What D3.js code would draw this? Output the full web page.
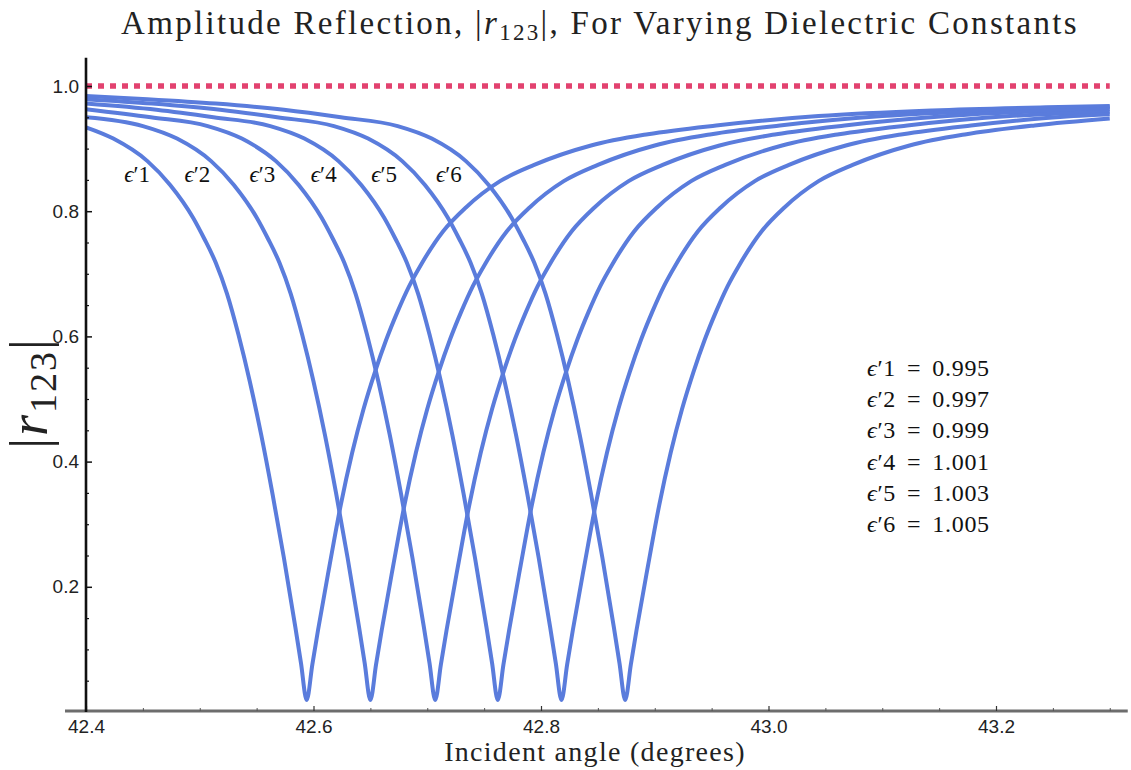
<!DOCTYPE html>
<html>
<head>
<meta charset="utf-8">
<script src="https://cdn.jsdelivr.net/npm/d3@7"></script>
<style>
  html, body { margin: 0; padding: 0; background: #ffffff; }
  svg { display: block; }
</style>
</head>
<body>
<svg id="chart" width="1131" height="770"></svg>
<script>
// ---------------- data ----------------
const angleTicks = [42.4, 42.6, 42.8, 43.0, 43.2];
const angleMinorTicks = [42.45, 42.5, 42.55, 42.65, 42.7, 42.75, 42.85, 42.9, 42.95, 43.05, 43.1, 43.15, 43.25, 43.3];
const rTicks = [0.2, 0.4, 0.6, 0.8, 1.0];
const rMinorTicks = [0.05, 0.1, 0.15, 0.25, 0.3, 0.35, 0.45, 0.5, 0.55, 0.65, 0.7, 0.75, 0.85, 0.9, 0.95];
const curveNames = ["ϵ′1", "ϵ′2", "ϵ′3", "ϵ′4", "ϵ′5", "ϵ′6"];
const epsValues = ["0.995", "0.997", "0.999", "1.001", "1.003", "1.005"];
const referenceLevel = [[42.4, 1.0], [43.3, 1.0]];

const curve1 = [[42.400,0.934],[42.424,0.916],[42.454,0.880],[42.474,0.842],[42.494,0.790],[42.504,0.756],[42.514,0.718],[42.524,0.668],[42.534,0.603],[42.544,0.528],[42.554,0.443],[42.564,0.348],[42.574,0.246],[42.584,0.136],[42.589,0.078],[42.594,0.019],[42.599,0.076],[42.604,0.131],[42.614,0.233],[42.624,0.331],[42.634,0.414],[42.644,0.484],[42.654,0.543],[42.664,0.595],[42.674,0.640],[42.684,0.680],[42.694,0.713],[42.714,0.768],[42.734,0.806],[42.764,0.848],[42.794,0.874],[42.844,0.905],[42.894,0.923],[42.954,0.937],[43.044,0.952],[43.144,0.961],[43.244,0.966],[43.300,0.968]];
const curve2 = [[42.400,0.950],[42.450,0.936],[42.480,0.916],[42.510,0.880],[42.530,0.842],[42.550,0.790],[42.560,0.756],[42.570,0.718],[42.580,0.668],[42.590,0.603],[42.600,0.528],[42.610,0.443],[42.620,0.348],[42.630,0.246],[42.640,0.136],[42.645,0.078],[42.650,0.019],[42.655,0.076],[42.660,0.131],[42.670,0.233],[42.680,0.331],[42.690,0.414],[42.700,0.484],[42.710,0.543],[42.720,0.595],[42.730,0.640],[42.740,0.680],[42.750,0.713],[42.770,0.768],[42.790,0.806],[42.820,0.848],[42.850,0.874],[42.900,0.905],[42.950,0.923],[43.010,0.937],[43.100,0.952],[43.200,0.961],[43.300,0.966]];
const curve3 = [[42.400,0.963],[42.457,0.950],[42.507,0.936],[42.537,0.916],[42.567,0.880],[42.587,0.842],[42.607,0.790],[42.617,0.756],[42.627,0.718],[42.637,0.668],[42.647,0.603],[42.657,0.528],[42.667,0.443],[42.677,0.348],[42.687,0.246],[42.697,0.136],[42.702,0.078],[42.707,0.019],[42.712,0.076],[42.717,0.131],[42.727,0.233],[42.737,0.331],[42.747,0.414],[42.757,0.484],[42.767,0.543],[42.777,0.595],[42.787,0.640],[42.797,0.680],[42.807,0.713],[42.827,0.768],[42.847,0.806],[42.877,0.848],[42.907,0.874],[42.957,0.905],[43.007,0.923],[43.067,0.937],[43.157,0.952],[43.257,0.961],[43.300,0.963]];
const curve4 = [[42.400,0.972],[42.462,0.962],[42.512,0.950],[42.562,0.936],[42.592,0.916],[42.622,0.880],[42.642,0.842],[42.662,0.790],[42.672,0.756],[42.682,0.718],[42.692,0.668],[42.702,0.603],[42.712,0.528],[42.722,0.443],[42.732,0.348],[42.742,0.246],[42.752,0.136],[42.757,0.078],[42.762,0.019],[42.767,0.076],[42.772,0.131],[42.782,0.233],[42.792,0.331],[42.802,0.414],[42.812,0.484],[42.822,0.543],[42.832,0.595],[42.842,0.640],[42.852,0.680],[42.862,0.713],[42.882,0.768],[42.902,0.806],[42.932,0.848],[42.962,0.874],[43.012,0.905],[43.062,0.923],[43.122,0.937],[43.212,0.952],[43.300,0.959]];
const curve5 = [[42.400,0.979],[42.458,0.972],[42.518,0.962],[42.568,0.950],[42.618,0.936],[42.648,0.916],[42.678,0.880],[42.698,0.842],[42.718,0.790],[42.728,0.756],[42.738,0.718],[42.748,0.668],[42.758,0.603],[42.768,0.528],[42.778,0.443],[42.788,0.348],[42.798,0.246],[42.808,0.136],[42.813,0.078],[42.818,0.019],[42.823,0.076],[42.828,0.131],[42.838,0.233],[42.848,0.331],[42.858,0.414],[42.868,0.484],[42.878,0.543],[42.888,0.595],[42.898,0.640],[42.908,0.680],[42.918,0.713],[42.938,0.768],[42.958,0.806],[42.988,0.848],[43.018,0.874],[43.068,0.905],[43.118,0.923],[43.178,0.937],[43.268,0.952],[43.300,0.955]];
const curve6 = [[42.400,0.984],[42.454,0.979],[42.514,0.972],[42.574,0.962],[42.624,0.950],[42.674,0.936],[42.704,0.916],[42.734,0.880],[42.754,0.842],[42.774,0.790],[42.784,0.756],[42.794,0.718],[42.804,0.668],[42.814,0.603],[42.824,0.528],[42.834,0.443],[42.844,0.348],[42.854,0.246],[42.864,0.136],[42.869,0.078],[42.874,0.019],[42.879,0.076],[42.884,0.131],[42.894,0.233],[42.904,0.331],[42.914,0.414],[42.924,0.484],[42.934,0.543],[42.944,0.595],[42.954,0.640],[42.964,0.680],[42.974,0.713],[42.994,0.768],[43.014,0.806],[43.044,0.848],[43.074,0.874],[43.124,0.905],[43.174,0.923],[43.234,0.937],[43.300,0.948]];
const curves = [curve1, curve2, curve3, curve4, curve5, curve6];

// annotation anchors (where the curve names sit, in data units)
const nameAngles = [42.445, 42.498, 42.555, 42.609, 42.662, 42.719];
const nameLevel = 0.847;

// ---------------- layout ----------------
const svg = d3.select("#chart");
const x = d3.scaleLinear().domain([42.4, 43.3]).range([86, 1109.75]);
const y = d3.scaleLinear().domain([0, 1]).range([712, 86]);

const serif = "'Liberation Serif', 'DejaVu Serif', serif";
const sans = "'Liberation Sans', Arial, sans-serif";
const blue = "#5a7cdc";
const red = "#e2426f";

// curves
const line = d3.line().x(d => x(d[0])).y(d => y(d[1])).curve(d3.curveMonotoneX);
svg.append("g").selectAll("path").data(curves).join("path")
  .attr("d", line).attr("fill", "none").attr("stroke", blue)
  .attr("stroke-width", 4).attr("stroke-linejoin", "round").attr("stroke-linecap", "butt");

// reference dotted line at 1.0
svg.append("path").datum(referenceLevel)
  .attr("d", d3.line().x(d => x(d[0])).y(d => y(d[1])))
  .attr("fill", "none").attr("stroke", red).attr("stroke-width", 5.5)
  .attr("stroke-dasharray", "6 6");

// x axis
const xAxisY = y(0) - 1;
svg.append("line").attr("x1", x(42.4) - 21).attr("x2", x(43.3) + 18)
  .attr("y1", xAxisY).attr("y2", xAxisY).attr("stroke", "#6d6d6d").attr("stroke-width", 3);
const gx = svg.append("g").attr("transform", `translate(0,${xAxisY})`)
  .call(d3.axisBottom(x).tickValues(angleTicks).tickSize(-5).tickPadding(9).tickFormat(d3.format(".1f")));
gx.select(".domain").remove();
gx.selectAll("line").attr("stroke", "#333").attr("stroke-width", 1.2);
gx.selectAll("text").attr("font-family", sans).attr("font-size", 19).attr("fill", "#222");
const gxm = svg.append("g").attr("transform", `translate(0,${xAxisY})`)
  .call(d3.axisBottom(x).tickValues(angleMinorTicks).tickSize(-3).tickFormat(""));
gxm.select(".domain").remove();
gxm.selectAll("line").attr("stroke", "#555").attr("stroke-width", 1);

// y axis
svg.append("line").attr("x1", x(42.4)).attr("x2", x(42.4))
  .attr("y1", y(0)).attr("y2", y(1.045)).attr("stroke", "#111").attr("stroke-width", 2.6);
const gy = svg.append("g").attr("transform", `translate(${x(42.4)},0)`)
  .call(d3.axisLeft(y).tickValues(rTicks).tickSize(-6).tickPadding(7).tickFormat(d3.format(".1f")));
gy.select(".domain").remove();
gy.selectAll("line").attr("stroke", "#111").attr("stroke-width", 1.5);
gy.selectAll("text").attr("font-family", sans).attr("font-size", 19).attr("fill", "#222");
const gym = svg.append("g").attr("transform", `translate(${x(42.4)},0)`)
  .call(d3.axisLeft(y).tickValues(rMinorTicks).tickSize(-3).tickFormat(""));
gym.select(".domain").remove();
gym.selectAll("line").attr("stroke", "#111").attr("stroke-width", 1.2);

// curve name labels
svg.append("g").selectAll("text").data(curveNames).join("text")
  .attr("x", (d, i) => x(nameAngles[i])).attr("y", y(nameLevel))
  .attr("text-anchor", "middle").attr("font-family", serif).attr("font-size", 23)
  .attr("fill", "#111")
  .each(function(d) {
    const t = d3.select(this);
    t.append("tspan").attr("font-style", "italic").text("ϵ");
    t.append("tspan").text(d.slice(1));
  });

// legend of values
const legend = svg.append("g");
epsValues.forEach((v, i) => {
  const t = legend.append("text").attr("x", 867).attr("y", 376 + i * 31.2)
    .attr("font-family", serif).attr("font-size", 24).attr("fill", "#111")
    .attr("letter-spacing", 0.7);
  t.append("tspan").attr("font-style", "italic").text("ϵ");
  t.append("tspan").text(curveNames[i].slice(1));
  t.append("tspan").attr("dx", 11).text("=");
  t.append("tspan").attr("dx", 11).text(v);
});

// title
const title = svg.append("text").attr("x", 600).attr("y", 34).attr("text-anchor", "middle")
  .attr("font-family", serif).attr("font-size", 33).attr("fill", "#222")
  .attr("letter-spacing", 2.3);
title.append("tspan").text("Amplitude Reflection, |");
title.append("tspan").attr("font-style", "italic").text("r");
title.append("tspan").attr("font-size", 23).attr("dy", 6).text("123");
title.append("tspan").attr("dy", -6).text("|, For Varying Dielectric Constants");

// x label
svg.append("text").attr("x", 595).attr("y", 761).attr("text-anchor", "middle")
  .attr("font-family", serif).attr("font-size", 28).attr("fill", "#222")
  .attr("letter-spacing", 1.3)
  .text("Incident angle (degrees)");

// y label
const yl = svg.append("text").attr("transform", "translate(47,393) rotate(-90)")
  .attr("text-anchor", "middle").attr("font-family", serif).attr("font-size", 54).attr("fill", "#222")
  .attr("letter-spacing", 2);
yl.append("tspan").text("|");
yl.append("tspan").attr("font-style", "italic").text("r");
yl.append("tspan").attr("font-size", 38).attr("dy", 9).text("123");
yl.append("tspan").attr("dy", -9).text("|");
</script>
</body>
</html>
